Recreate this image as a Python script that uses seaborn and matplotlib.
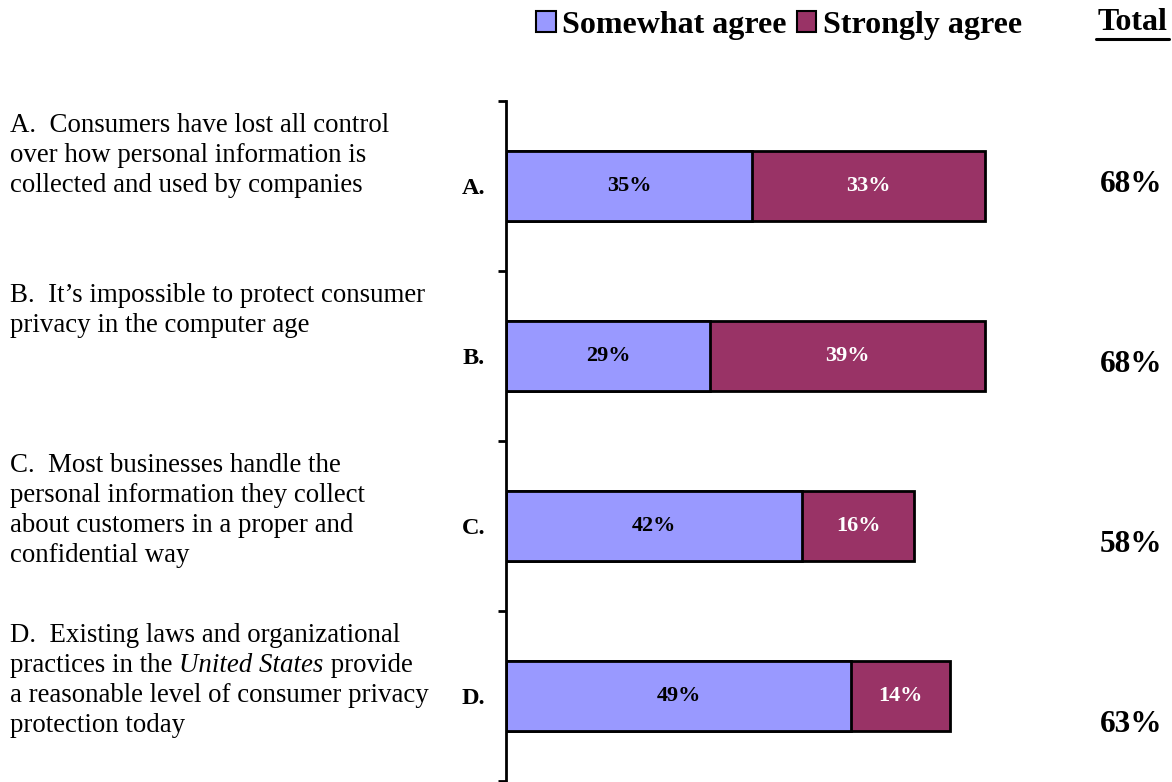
import matplotlib
matplotlib.use("Agg")
import matplotlib.pyplot as plt
import matplotlib.transforms as mtransforms
from matplotlib.patches import Patch
from matplotlib.lines import Line2D
import seaborn as sns
import pandas as pd

categories = ["A.", "B.", "C.", "D."]
somewhat = [35, 29, 42, 49]
strongly = [33, 39, 16, 14]
totals = [68, 68, 58, 63]
# segments wrapped in *...* are set in italic
descriptions = [
    ["A.  Consumers have lost all control",
     "over how personal information is",
     "collected and used by companies"],
    ["B.  It\u2019s impossible to protect consumer",
     "privacy in the computer age"],
    ["C.  Most businesses handle the",
     "personal information they collect",
     "about customers in a proper and",
     "confidential way"],
    ["D.  Existing laws and organizational",
     "practices in the *United States* provide",
     "a reasonable level of consumer privacy",
     "protection today"],
]
series_names = ["Somewhat agree", "Strongly agree"]

sns.set_style("white")
plt.rcParams["font.family"] = ["Liberation Serif", "DejaVu Serif"]
for k in ["text.color", "axes.labelcolor", "xtick.color", "ytick.color", "axes.edgecolor"]:
    plt.rcParams[k] = "black"

c_some = "#9999FF"
c_strong = "#993366"

df = pd.DataFrame({"cat": categories, "some": somewhat, "strong": strongly})
df["total"] = df["some"] + df["strong"]

W, H = 1172, 782
fig = plt.figure(figsize=(W / 100, H / 100), dpi=100)
ax = fig.add_axes([506 / W, 1 / H, 90 * 7.04 / W, 680 / H])

sns.barplot(data=df, x="total", y="cat", orient="h", color=c_strong,
            edgecolor="black", linewidth=2, width=0.41, ax=ax, saturation=1)
sns.barplot(data=df, x="some", y="cat", orient="h", color=c_some,
            edgecolor="black", linewidth=2, width=0.41, ax=ax, saturation=1)

ax.set_xlim(0, 90)
ax.set_ylim(3.5, -0.5)
ax.set_xlabel("")
ax.set_ylabel("")
ax.set_xticks([])
for s in ["top", "right", "bottom"]:
    ax.spines[s].set_visible(False)
ax.spines["left"].set_linewidth(2)
ax.spines["left"].set_color("black")
ax.set_yticks(range(len(categories)))
ax.set_yticklabels(categories, fontsize=17.5, fontweight="bold", color="black")
ax.set_yticks([i - 0.5 for i in range(len(categories) + 1)], minor=True)
ax.tick_params(axis="y", which="major", left=True, length=0, pad=15)
ax.tick_params(axis="y", which="minor", left=True, length=6, width=2,
               direction="out", color="black")

for i in range(len(categories)):
    s, t = somewhat[i], strongly[i]
    ax.text(s / 2, i, f"{s}%", ha="center", va="center", fontsize=16,
            fontweight="bold", color="black")
    ax.text(s + t / 2, i, f"{t}%", ha="center", va="center", fontsize=16,
            fontweight="bold", color="white")

# totals column
for i, tot in enumerate(totals):
    fig.text(1131 / W, 1 - (184 + 180 * i) / H, f"{tot}%", ha="center",
             va="center", fontsize=22.5, fontweight="bold", color="black")

# statement texts to the left
trans = mtransforms.blended_transform_factory(fig.transFigure, ax.transData)
line_px = 30
for i, lines in enumerate(descriptions):
    for j, line in enumerate(lines):
        off = mtransforms.ScaledTranslation(0, -j * line_px / 100, fig.dpi_scale_trans)
        parts = line.split("*")
        prev = None
        for k, seg in enumerate(parts):
            if seg == "":
                continue
            style = "italic" if k % 2 == 1 else "normal"
            if prev is None:
                prev = ax.text(10 / W, i - 0.5 + 0.07, seg, transform=trans + off,
                               ha="left", va="top", fontsize=19.4, style=style,
                               color="black", clip_on=False)
            else:
                prev = ax.annotate(seg, xy=(1, 1), xycoords=prev, ha="left", va="top",
                                   fontsize=19.4, style=style, color="black",
                                   annotation_clip=False)

fig.text(1133 / W, 1 - 23 / H, "Total", ha="center", va="center",
         fontsize=23, fontweight="bold")
fig.add_artist(Line2D([1096 / W, 1169 / W], [1 - 39 / H, 1 - 39 / H],
                      color="black", linewidth=2.2, transform=fig.transFigure))

handles = [Patch(facecolor=c_some, edgecolor="black", linewidth=1.5),
           Patch(facecolor=c_strong, edgecolor="black", linewidth=1.5)]
fig.legend(handles, series_names, loc="center", bbox_to_anchor=(779 / W, 1 - 25 / H),
           ncol=2, frameon=False, prop={"size": 23, "weight": "bold"},
           handlelength=0.62, handleheight=0.62, handletextpad=0.19, columnspacing=0.31,
           borderaxespad=0, borderpad=0)

fig.savefig("out.png", dpi=100)
